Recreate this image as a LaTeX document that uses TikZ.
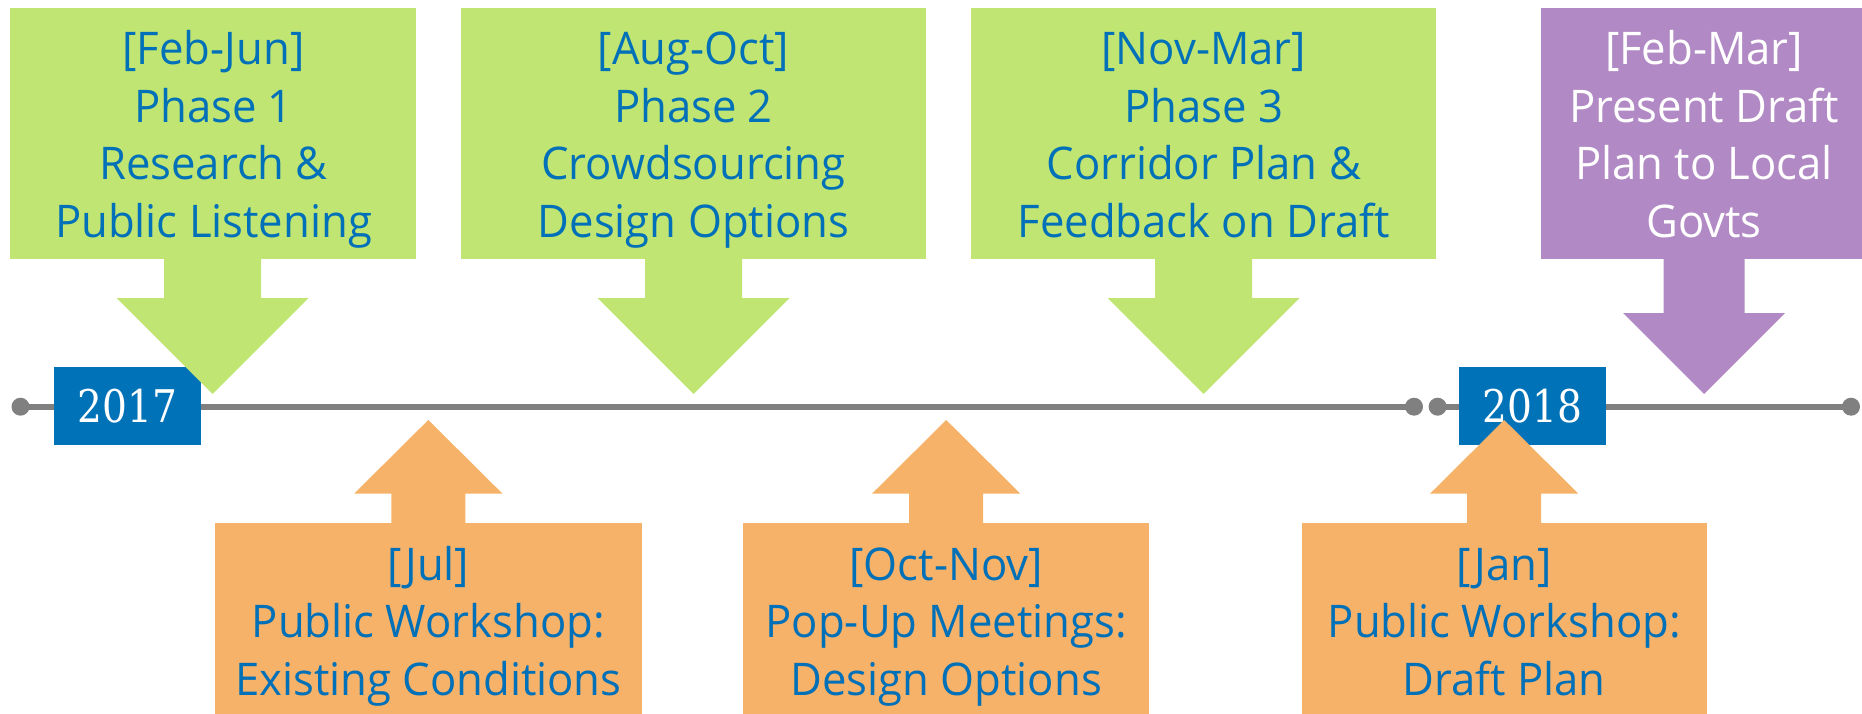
\documentclass[tikz,border=0pt]{standalone}
\usepackage{fontspec}
\setmainfont{Open Sans}[FakeStretch=0.97]
\newfontfamily\yearfont{DejaVu Serif}[FakeStretch=0.87]
\usetikzlibrary{calc}
\definecolor{gfill}{RGB}{193,229,114}
\definecolor{ofill}{RGB}{247,178,105}
\definecolor{pfill}{RGB}{177,137,196}
\definecolor{bfill}{RGB}{0,114,184}
\definecolor{tblue}{RGB}{0,112,184}
\definecolor{lgray}{RGB}{128,128,128}
\tikzset{
  boxshape/.style={rectangle, inner sep=0pt, outer sep=0pt},
  gbox/.style={boxshape, fill=gfill, minimum height=250.7, minimum width=#1},
  pbox/.style={boxshape, fill=pfill, minimum height=250.7, minimum width=#1},
  obox/.style={boxshape, fill=ofill, minimum height=196.7, minimum width=#1},
  txt/.style={align=center, inner sep=0pt, outer sep=0pt, font=\fontsize{45}{57.5}\selectfont, text=tblue},
  wtxt/.style={txt, text=white},
  yearbox/.style={boxshape, fill=bfill, minimum width=147, minimum height=78, text=white, font=\yearfont\fontsize{45}{50}\selectfont},
  tdot/.style={circle, fill=lgray, minimum size=18, inner sep=0pt},
  tline/.style={draw=lgray, line width=6pt},
}
\begin{document}
\begin{tikzpicture}[x=1pt,y=-1pt]
\useasboundingbox (0,0) rectangle (1862,714);
% timeline
\node[tdot] (d1) at (20.5,406.7) {};
\node[tdot] (d2) at (1414,406.7) {};
\node[tdot] (d3) at (1437.6,406.7) {};
\node[tdot] (d4) at (1851,406.7) {};
\draw[tline] (d1.center) -- (d2.center);
\draw[tline] (d3.center) -- (d4.center);
% year boxes
\node[yearbox] (y17) at (127.5,405.7) {2017};
\node[yearbox] (y18) at (1532.3,405.7) {2018};
% green boxes
\node[gbox=406] (p1) at (212.5,133.35) {};
\node[gbox=465] (p2) at (693.5,133.35) {};
\node[gbox=465] (p3) at (1203.7,133.35) {};
\node[pbox=326] (p4) at (1704,133.35) {};
\foreach \b in {p1,p2,p3}{
  \fill[gfill] ($(\b.south)+(-48.5,-1)$) -- ++(0,40.3) -- ++(-47.5,0)
    -- ($(\b.south)+(0,135.3)$) -- ($(\b.south)+(96,39.3)$) -- ++(-47.5,0)
    -- ++(0,-40.3) -- cycle;
}
\fill[pfill] ($(p4.south)+(-40.5,-1)$) -- ++(0,55.3) -- ++(-40.5,0)
  -- ($(p4.south)+(0,135.3)$) -- ($(p4.south)+(81,54.3)$) -- ++(-40.5,0)
  -- ++(0,-55.3) -- cycle;
\node[txt] (p1t) at (213.5,139.75) {\strut[Feb-Jun]\\Phase 1\\Research \&\\Public Listening\strut};
\node[txt] (p2t) at (693.5,139.75) {\strut[Aug-Oct]\\Phase 2\\Crowdsourcing\\Design Options\strut};
\node[txt] (p3t) at (1203.7,139.75) {\strut[Nov-Mar]\\Phase 3\\Corridor Plan \&\\Feedback on Draft\strut};
\node[wtxt] (p4t) at (1704,139.75) {\strut[Feb-Mar]\\Present Draft\\Plan to Local\\Govts\strut};
% orange boxes
\node[obox=426.5] (o1) at (428.3,621.65) {};
\node[obox=405.7] (o2) at (946.2,621.65) {};
\node[obox=405.3] (o3) at (1504.2,621.65) {};
\foreach \b in {o1,o2,o3}{
  \fill[ofill] ($(\b.north)+(-37,1)$) -- ++(0,-30.8) -- ++(-37,0)
    -- ($(\b.north)+(0,-103.3)$) -- ($(\b.north)+(74,-29.8)$) -- ++(-37,0)
    -- ++(0,30.8) -- cycle;
}
\node[txt] (o1t) at (428.3,626) {\strut[Jul]\\Public Workshop:\\Existing Conditions\strut};
\node[txt] (o2t) at (946.2,626) {\strut[Oct-Nov]\\Pop-Up Meetings:\\Design Options\strut};
\node[txt] (o3t) at (1504.2,626) {\strut[Jan]\\Public Workshop:\\Draft Plan\strut};
\end{tikzpicture}
\end{document}
